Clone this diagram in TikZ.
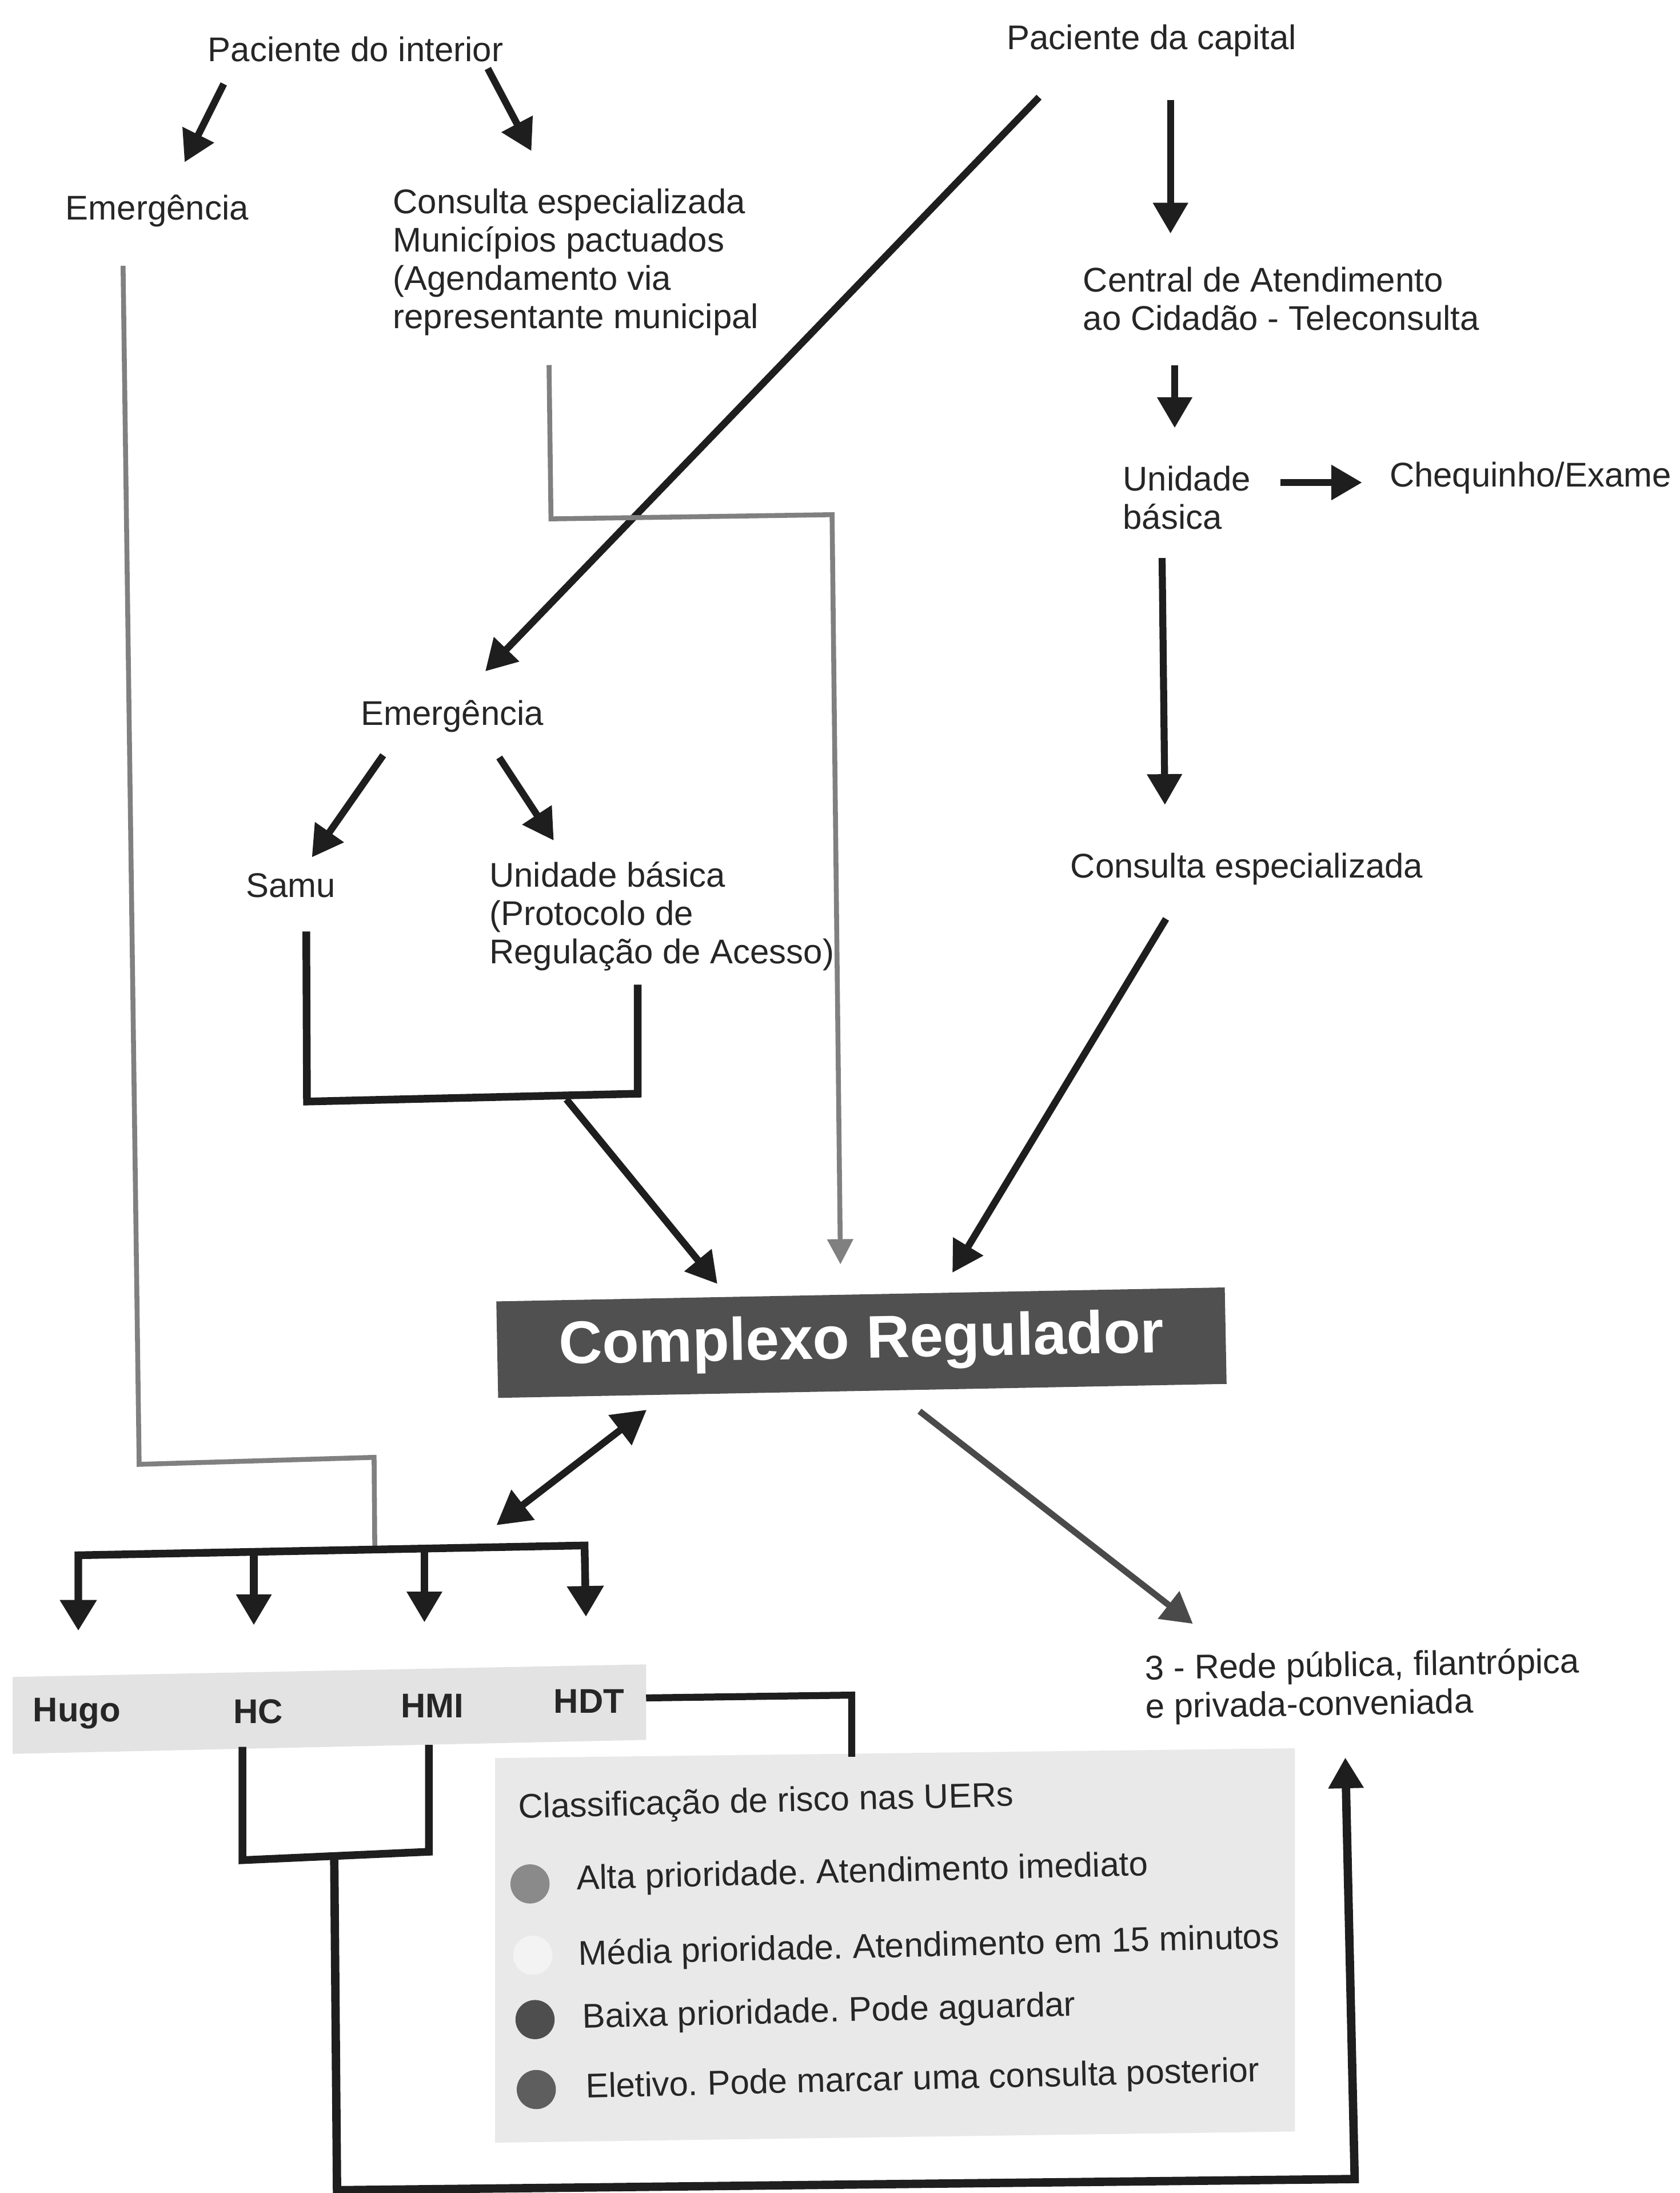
\documentclass[tikz,border=0pt]{standalone}
\usepackage{fontspec}
\setmainfont{Liberation Sans}
\usetikzlibrary{arrows.meta}
\definecolor{ink}{HTML}{262626}
\definecolor{lineblack}{HTML}{1E1E1E}
\definecolor{linegrey}{HTML}{808080}
\definecolor{crfill}{HTML}{505050}
\definecolor{bandgrey}{HTML}{E3E3E3}
\definecolor{leggrey}{HTML}{E9E9E9}
\definecolor{dotA}{HTML}{8A8A8A}
\definecolor{dotB}{HTML}{F3F3F3}
\definecolor{dotC}{HTML}{4E4E4E}
\definecolor{dotD}{HTML}{5E5E5E}
\definecolor{diaggrey}{HTML}{4A4A4A}
\newcommand{\mline}[1]{\begin{tabular}[t]{@{}l@{}}#1\end{tabular}}
\frenchspacing
\begin{document}
\begin{tikzpicture}[x=1pt,y=-1pt,
  txt/.style={font=\fontsize{24.5}{27.5}\selectfont, text=ink, inner sep=0pt, outer sep=0pt, anchor=base west, align=left},
  hosp/.style={txt, font=\fontsize{24.5}{27.5}\selectfont\bfseries},
  legtxt/.style={txt, rotate=1.4},
  crbox/.style={fill=crfill, text=white, font=\fontsize{43}{48}\selectfont\bfseries, minimum width=521pt, minimum height=69pt, inner sep=0pt, rotate=1.1},
  dot/.style={circle, minimum size=28pt, inner sep=0pt},
  arr/.style={draw=lineblack, line width=5pt, -{Triangle[length=22pt,width=24pt]}},
  dblarr/.style={draw=lineblack, line width=5pt, {Triangle[length=24pt,width=26pt]}-{Triangle[length=24pt,width=26pt]}},
  bracket/.style={draw=lineblack, line width=5.5pt, line join=miter},
  thickbr/.style={draw=lineblack, line width=6pt, line join=miter},
  greyline/.style={draw=linegrey, line width=3.5pt, line join=miter},
  greyarr/.style={greyline, -{Triangle[length=18pt,width=18pt]}},
  diagarr/.style={draw=diaggrey, line width=4.5pt, -{Triangle[length=22pt,width=24pt]}}
]
\useasboundingbox (0,0) rectangle (1201,1568);

% ---------- backgrounds ----------
\fill[bandgrey] (9,1199) -- (462,1190) -- (462,1244) -- (9,1254) -- cycle;
\fill[leggrey] (354,1257) -- (926,1250) -- (926,1524) -- (354,1532) -- cycle;

% ---------- text nodes ----------
\node[txt] (pint) at (148.7,43.8) {Paciente do interior};
\node[txt] (pcap) at (720,35.2) {Paciente da capital};
\node[txt] (emg1) at (47,157) {Emergência};
\node[txt] (cons1) at (281,152.5) {\mline{Consulta especializada\\Municípios pactuados\\(Agendamento via\\representante municipal}};
\node[txt] (cent) at (774.5,208.6) {\mline{Central de Atendimento\\ao Cidadão - Teleconsulta}};
\node[txt] (ub1) at (803,351) {\mline{Unidade\\básica}};
\node[txt] (cheq) at (993.7,348) {Chequinho/Exame};
\node[txt] (emg2) at (258,518.5) {Emergência};
\node[txt] (samu) at (176,641.6) {Samu};
\node[txt] (ub2) at (350,634) {\mline{Unidade básica\\(Protocolo de\\Regulação de Acesso)}};
\node[txt] (cons2) at (765.5,627.7) {Consulta especializada};
\node[crbox] (creg) at (616,960) {Complexo Regulador};
\node[txt, rotate=0.9] (rede) at (819,1201) {\mline{3 - Rede pública, filantrópica\\e privada-conveniada}};

\node[hosp] (hugo) at (23.7,1231) {Hugo};
\node[hosp] (hc) at (167,1232) {HC};
\node[hosp] (hmi) at (286.6,1228) {HMI};
\node[hosp] (hdt) at (396,1224.7) {HDT};

\node[legtxt] (legt) at (371,1300) {Classificação de risco nas UERs};
\node[dot, fill=dotA] (dA) at (379,1347) {};
\node[dot, fill=dotB] (dB) at (381,1398) {};
\node[dot, fill=dotC] (dC) at (382.6,1444) {};
\node[dot, fill=dotD] (dD) at (383.5,1494) {};
\node[legtxt] (lA) at (412.6,1351) {Alta prioridade. Atendimento imediato};
\node[legtxt] (lB) at (414,1405) {Média prioridade. Atendimento em 15 minutos};
\node[legtxt] (lC) at (416.7,1450) {Baixa prioridade. Pode aguardar};
\node[legtxt] (lD) at (419,1500) {Eletivo. Pode marcar uma consulta posterior};

% ---------- connector end points ----------
\coordinate (pint-l) at (160,60);       \coordinate (emg1-t) at (132,116);
\coordinate (pint-r) at (348.8,49);     \coordinate (cons1-t) at (380,108);
\coordinate (pcap-l) at (743,69.5);     \coordinate (emg2-t) at (347,480);
\coordinate (pcap-b) at (837,71.7);     \coordinate (cent-t) at (837,167);
\coordinate (cent-b) at (840,261);      \coordinate (ub1-t) at (840,306);
\coordinate (ub1-r) at (915.6,345);     \coordinate (cheq-l) at (974,345);
\coordinate (ub1-b) at (831,399);       \coordinate (cons2-t) at (833,575.5);
\coordinate (emg2-l) at (274,540);      \coordinate (samu-t) at (223,613);
\coordinate (emg2-r) at (357,541.6);    \coordinate (ub2-t) at (396,601);
\coordinate (samu-b) at (219,666);      \coordinate (sb-l) at (219.5,787.6);
\coordinate (sb-r) at (456,782);        \coordinate (ub2-b) at (456,704);
\coordinate (sb-m) at (405,786);        \coordinate (creg-tl) at (513,918);
\coordinate (cons1-b) at (392.6,261);   \coordinate (g1a) at (394,371);
\coordinate (g1b) at (595,368);         \coordinate (creg-tm) at (601,904);
\coordinate (cons2-b) at (833.8,657);   \coordinate (creg-tr) at (681,910);
\coordinate (emg1-b) at (88,190);       \coordinate (g2a) at (99.5,1047);
\coordinate (g2b) at (267.5,1042);      \coordinate (hb-m) at (268,1107);
\coordinate (dbl-lo) at (355,1090.5);   \coordinate (creg-bl) at (462.4,1008);
\coordinate (creg-br) at (657.5,1009);  \coordinate (rede-t) at (853,1161);
\coordinate (hugo-t) at (56,1166);      \coordinate (hb-l) at (56,1112);
\coordinate (hb-r) at (418,1105);       \coordinate (hdt-t) at (419,1156);
\coordinate (hb-c) at (181.5,1110);     \coordinate (hc-t) at (181.5,1162);
\coordinate (hb-i) at (303.5,1108);     \coordinate (hmi-t) at (303.5,1160);
\coordinate (hdt-r) at (462,1214);      \coordinate (hdt-c) at (609,1212);
\coordinate (leg-t) at (609,1256);
\coordinate (hc-b) at (173.4,1249);     \coordinate (bb-l) at (173.4,1330);
\coordinate (bb-r) at (306.7,1324);     \coordinate (hmi-b) at (306.7,1247.6);
\coordinate (bb-m) at (239,1327);       \coordinate (bl-l) at (241,1566);
\coordinate (bl-r) at (968.7,1558);     \coordinate (rede-b) at (962,1256.6);

% ---------- connectors ----------
\draw[arr] (pint-l) -- (emg1-t);
\draw[arr] (pint-r) -- (cons1-t);
\draw[arr] (pcap-l) -- (emg2-t);
\draw[arr] (pcap-b) -- (cent-t);
\draw[arr] (cent-b) -- (ub1-t);
\draw[arr] (ub1-r) -- (cheq-l);
\draw[arr] (ub1-b) -- (cons2-t);
\draw[arr] (emg2-l) -- (samu-t);
\draw[arr] (emg2-r) -- (ub2-t);
\draw[bracket] (samu-b) -- (sb-l) -- (sb-r) -- (ub2-b);
\draw[arr] (sb-m) -- (creg-tl);
\draw[greyarr] (cons1-b) -- (g1a) -- (g1b) -- (creg-tm);
\draw[arr] (cons2-b) -- (creg-tr);
\draw[greyline] (emg1-b) -- (g2a) -- (g2b) -- (hb-m);
\draw[dblarr] (dbl-lo) -- (creg-bl);
\draw[diagarr] (creg-br) -- (rede-t);
\draw[bracket, {Triangle[length=22pt,width=25pt]}-{Triangle[length=22pt,width=25pt]}] (hugo-t) -- (hb-l) -- (hb-r) -- (hdt-t);
\draw[arr, line width=5.5pt] (hb-c) -- (hc-t);
\draw[arr, line width=5.5pt] (hb-i) -- (hmi-t);
\draw[bracket, line width=5pt] (hdt-r) -- (hdt-c) -- (leg-t);
\draw[bracket] (hc-b) -- (bb-l) -- (bb-r) -- (hmi-b);
\draw[thickbr, -{Triangle[length=22pt,width=24pt]}] (bb-m) -- (bl-l) -- (bl-r) -- (rede-b);
\end{tikzpicture}
\end{document}
